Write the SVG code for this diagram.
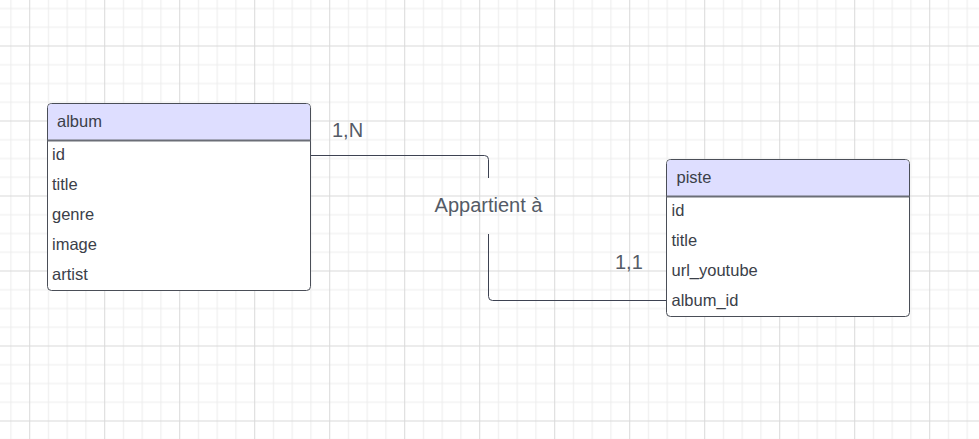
<svg xmlns="http://www.w3.org/2000/svg" width="979" height="439" viewBox="0 0 979 439">
  <style>
    .ent { fill: #ffffff; stroke: #4a4e57; stroke-width: 1; }
    .hdr { fill: #dedeff; stroke: none; }
    .sep { stroke: #6b6e77; stroke-width: 2; }
    .t { font-family: "Liberation Sans", Arial, sans-serif; font-size: 16.5px; fill: #3b4049; }
    .lbl { font-family: "Liberation Sans", Arial, sans-serif; font-size: 20px; fill: #545b66; }
    .conn { fill: none; stroke: #3d4252; stroke-width: 1; }
  </style>
  <defs>
    <pattern id="grid" patternUnits="userSpaceOnUse" x="29.2" y="45.5" width="75" height="75">
      <path d="M19.25 0V75M38 0V75M56.75 0V75M0 19.25H75M0 38H75M0 56.75H75" stroke="#ececec" stroke-width="1" fill="none"/>
      <path d="M0.5 0V75M0 0.5H75" stroke="#d9d9d9" stroke-width="1" fill="none"/>
    </pattern>
  </defs>
  <rect x="0" y="0" width="979" height="439" fill="#ffffff"/>
  <rect x="0" y="0" width="979" height="439" fill="url(#grid)"/>

  <g id="connectors">
    <path class="conn" d="M310.5 155.5H484.5Q488.5 155.5 488.5 159.5V178"/>
    <path class="conn" d="M488.5 234V296.5Q488.5 300.5 492.5 300.5H666.5"/>
    <text class="lbl" x="488.5" y="211.5" text-anchor="middle">Appartient à</text>
    <text class="lbl" x="332" y="136.5">1,N</text>
    <text class="lbl" x="615" y="268.5">1,1</text>
  </g>

  <g id="album">
    <rect class="ent" x="47.5" y="103.5" width="263" height="187" rx="4"/>
    <path class="hdr" d="M48 140.5V107.5Q48 104 51.5 104H306.5Q310 104 310 107.5V140.5Z"/>
    <line class="sep" x1="47.5" y1="140.5" x2="310.5" y2="140.5"/>
    <text class="t" x="57" y="126.5">album</text>
    <text class="t" x="52" y="160">id</text>
    <text class="t" x="52" y="190">title</text>
    <text class="t" x="52" y="220">genre</text>
    <text class="t" x="52" y="250">image</text>
    <text class="t" x="52" y="280">artist</text>
  </g>

  <g id="piste">
    <rect class="ent" x="666.5" y="159.5" width="243" height="157" rx="4"/>
    <path class="hdr" d="M667 196.5V163.5Q667 160 670.5 160H905.5Q909 160 909 163.5V196.5Z"/>
    <line class="sep" x1="666.5" y1="196.5" x2="909.5" y2="196.5"/>
    <text class="t" x="676.5" y="182.5">piste</text>
    <text class="t" x="671.5" y="216">id</text>
    <text class="t" x="671.5" y="246">title</text>
    <text class="t" x="671.5" y="276">url_youtube</text>
    <text class="t" x="671.5" y="306">album_id</text>
  </g>
</svg>
